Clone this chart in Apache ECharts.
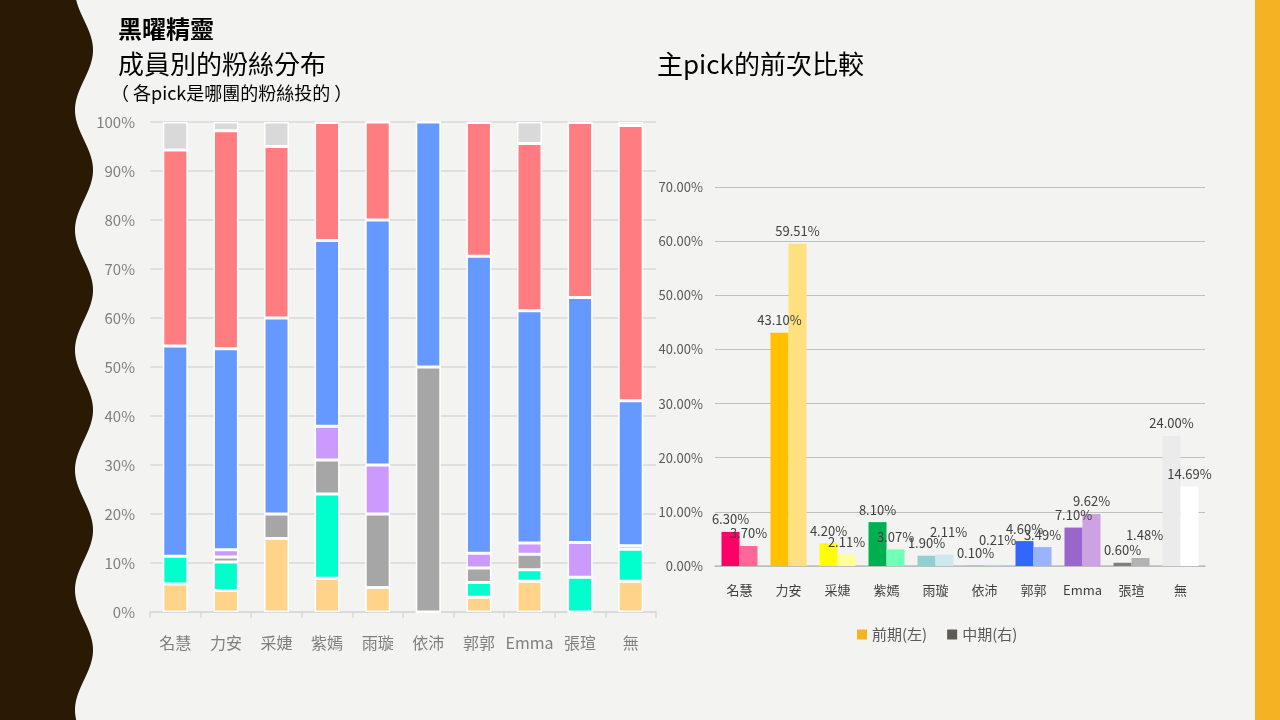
<!DOCTYPE html>
<html>
<head>
<meta charset="utf-8">
<script src="https://cdn.jsdelivr.net/npm/echarts@6/dist/echarts.min.js"></script>
<style>
  html, body { margin: 0; padding: 0; background: #f3f3f1; }
  #main { width: 1280px; height: 720px; }
</style>
</head>
<body>
<div id="main"></div>
<script>
// 左圖：各成員的粉絲組成（百分比堆疊）
const members = ['名慧', '力安', '采婕', '紫嫣', '雨璇', '依沛', '郭郭', 'Emma', '張瑄', '無'];

const stackOrange = [5.7, 4.4, 15, 6.9, 5, 0, 3.0, 6.3, 0, 6.3];
const stackCyan   = [5.7, 5.8, 0, 17.2, 0, 0, 3.0, 2.3, 7.1, 6.5];
const stackGray   = [0, 1.0, 5, 6.9, 15, 50, 3.0, 3.2, 0, 0];
const stackPurple = [0, 1.5, 0, 6.9, 10, 0, 3.0, 2.3, 7.1, 0.7];
const stackBlue   = [42.9, 41.0, 40, 37.9, 50, 50, 60.6, 47.4, 50, 29.6];
const stackRed    = [40, 44.5, 35, 24.1, 20, 0, 27.3, 34.1, 35.7, 56.2];
const stackLight  = [5.7, 1.8, 5, 0, 0, 0, 0, 4.4, 0, 0.7];

// 右圖：主pick 前期 / 中期
const prevPeriod = [6.30, 43.10, 4.20, 8.10, 1.90, 0.10, 4.60, 7.10, 0.60, 24.00];
const midPeriod  = [3.70, 59.51, 2.11, 3.07, 2.11, 0.21, 3.49, 9.62, 1.48, 14.69];

const leftTicks = [0, 10, 20, 30, 40, 50, 60, 70, 80, 90, 100];
const rightTicks = [0, 10, 20, 30, 40, 50, 60, 70];

// 顏色
const stackColors = ['#ffd38a', '#00ffcc', '#a6a6a6', '#cc99ff', '#6699ff', '#ff7c80', '#d9d9d9'];
const prevColors = ['#ff0066', '#ffc000', '#ffff00', '#00b050', '#92cfd0', '#9dc3e6', '#3366ff', '#9966cc', '#7f7f7f', '#ebebeb'];
const midColors  = ['#ff6699', '#ffe07f', '#ffff99', '#70ffb4', '#cde9ee', '#bdd7ee', '#99b3ff', '#cca3e0', '#b3b3b3', '#ffffff'];

// 小數值標籤避免重疊，往上挪一點（px）
const midLabelLift = { 4: 10, 5: 12, 8: 10 };

const FONT = '"Noto Sans CJK TC", "Noto Sans", sans-serif';

const chart = echarts.init(document.getElementById('main'));

// 左側波浪裝飾
function wavePoints() {
  const pts = [[0, 0]];
  for (let y = 0; y <= 720; y += 2) {
    pts.push([84 + 9 * Math.cos(2 * Math.PI * (y - 50) / 120), y]);
  }
  pts.push([0, 720]);
  return pts;
}

const stackData = [stackOrange, stackCyan, stackGray, stackPurple, stackBlue, stackRed, stackLight];
const stackSeries = stackData.map((arr, i) => ({
  name: 'g' + i,
  type: 'bar',
  stack: 'fans',
  xAxisIndex: 0,
  yAxisIndex: 0,
  barWidth: 25,
  data: arr,
  itemStyle: { color: stackColors[i], borderColor: '#ffffff', borderWidth: 1.5 },
  emphasis: { disabled: true }
}));

const labelStyle = {
  show: true,
  position: 'top',
  distance: 6,
  color: '#404040',
  fontSize: 13,
  fontFamily: FONT,
  formatter: p => p.value.toFixed(2) + '%'
};

chart.setOption({
  backgroundColor: '#f3f3f1',
  animation: false,
  textStyle: { fontFamily: FONT },
  title: [
    { text: '黑曜精靈', left: 113, top: 12, textStyle: { fontSize: 24, fontWeight: 'bold', color: '#000', fontFamily: FONT } },
    { text: '成員別的粉絲分布', left: 113, top: 46, textStyle: { fontSize: 26, fontWeight: 'normal', color: '#000', fontFamily: FONT } },
    { text: '（ 各pick是哪團的粉絲投的 ）', left: 106, top: 79, textStyle: { fontSize: 18, fontWeight: 'normal', color: '#000', fontFamily: FONT } },
    { text: '主pick的前次比較', left: 652, top: 46, textStyle: { fontSize: 26, fontWeight: 'normal', color: '#000', fontFamily: FONT } }
  ],
  graphic: [
    { type: 'polygon', shape: { points: wavePoints() }, style: { fill: '#2a1a04' }, silent: true },
    { type: 'rect', shape: { x: 1255, y: 0, width: 25, height: 720 }, style: { fill: '#f5b324' }, silent: true }
  ],
  legend: {
    data: ['前期(左)', '中期(右)'],
    left: 852,
    top: 622,
    itemWidth: 10,
    itemHeight: 10,
    itemGap: 20,
    icon: 'rect',
    textStyle: { fontSize: 15, color: '#595959', fontFamily: FONT }
  },
  grid: [
    { left: 150, right: 624, top: 122, bottom: 108 },
    { left: 715, right: 75, top: 187, bottom: 154 }
  ],
  xAxis: [
    {
      type: 'category', gridIndex: 0, data: members,
      axisLine: { lineStyle: { color: '#d9d9d9', width: 1.5 } },
      axisTick: { show: true, length: 6, interval: 0, lineStyle: { color: '#d9d9d9', width: 1.5 } },
      axisLabel: { interval: 0, fontSize: 16, color: '#7f7f7f', margin: 23, fontFamily: FONT }
    },
    {
      type: 'category', gridIndex: 1, data: members,
      axisLine: { lineStyle: { color: '#bfbfbf', width: 1.5 } },
      axisTick: { show: false },
      axisLabel: { interval: 0, fontSize: 13, color: '#404040', margin: 18, fontFamily: FONT }
    }
  ],
  yAxis: [
    {
      type: 'value', gridIndex: 0, min: leftTicks[0], max: leftTicks[leftTicks.length - 1], interval: 10,
      axisLine: { show: false }, axisTick: { show: false },
      splitLine: { lineStyle: { color: '#d9d9d9', width: 1.5 } },
      axisLabel: { fontSize: 15, color: '#7f7f7f', margin: 15, formatter: '{value}%', fontFamily: FONT }
    },
    {
      type: 'value', gridIndex: 1, min: rightTicks[0], max: rightTicks[rightTicks.length - 1], interval: 10,
      axisLine: { show: false }, axisTick: { show: false },
      splitLine: { lineStyle: { color: '#bfbfbf', width: 1.2 } },
      axisLabel: { fontSize: 13, color: '#595959', margin: 12, formatter: v => v.toFixed(2) + '%', fontFamily: FONT }
    },
    {
      type: 'value', gridIndex: 1, position: 'right', show: false,
      min: rightTicks[0], max: rightTicks[rightTicks.length - 1], interval: 10,
      splitLine: { show: false }
    }
  ],
  series: stackSeries.concat([
    {
      name: '前期(左)', type: 'bar', xAxisIndex: 1, yAxisIndex: 1,
      barWidth: 18, barGap: '0%',
      itemStyle: { color: '#f5b324' },
      data: prevPeriod.map((v, i) => ({ value: v, itemStyle: { color: prevColors[i] } })),
      label: labelStyle,
      emphasis: { disabled: true }
    },
    {
      name: '中期(右)', type: 'bar', xAxisIndex: 1, yAxisIndex: 2,
      barWidth: 18, barGap: '0%',
      itemStyle: { color: '#5f5b52' },
      data: midPeriod.map((v, i) => ({
        value: v,
        itemStyle: { color: midColors[i] },
        label: midLabelLift[i] ? { offset: [4, -midLabelLift[i]] } : undefined
      })),
      label: labelStyle,
      emphasis: { disabled: true }
    }
  ])
});
</script>
</body>
</html>
